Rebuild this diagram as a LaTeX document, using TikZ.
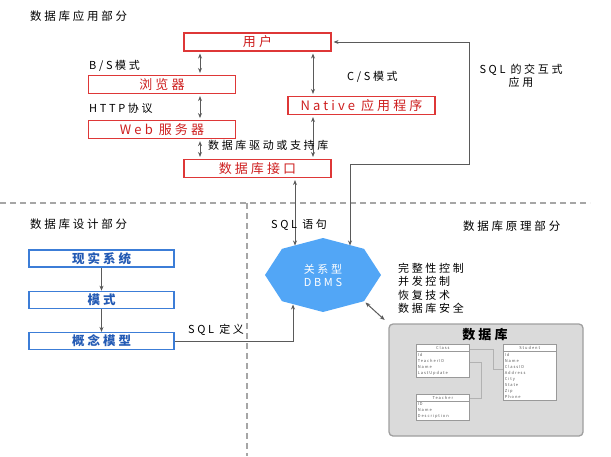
\documentclass[tikz,border=0pt]{standalone}
\usepackage{fontspec}
\setmainfont{Noto Sans CJK SC}[LetterSpace=24]
\usetikzlibrary{arrows.meta,positioning,calc,shapes.multipart}
\definecolor{appred}{RGB}{222,55,55}
\definecolor{apptext}{RGB}{205,30,30}
\definecolor{dsgblue}{RGB}{60,125,215}
\definecolor{dsgtext}{RGB}{35,90,180}
\definecolor{dbmsblue}{RGB}{82,166,246}
\definecolor{linegray}{RGB}{90,90,90}
\definecolor{dbgray}{RGB}{218,218,218}
\tikzset{
  appbox/.style={rectangle,draw=appred,line width=1.1pt,text=apptext,
                 minimum width=147pt,minimum height=18pt,inner sep=0pt,
                 font=\fontsize{13}{14}\selectfont},
  dsgbox/.style={rectangle,draw=dsgblue,line width=1.3pt,text=dsgtext,
                 minimum width=145pt,minimum height=17pt,inner sep=0pt,
                 font=\bfseries\fontsize{12.5}{14}\selectfont},
  lbl/.style={anchor=west,inner sep=0pt,font=\fontsize{11}{12.5}\selectfont},
  part/.style={lbl,font=\fontsize{11.5}{13}\selectfont},
  arrow/.style={-{Stealth[length=5pt,width=4pt]},line width=1pt,linegray},
  dblarrow/.style={{Stealth[length=5pt,width=4pt]}-{Stealth[length=5pt,width=4pt]},
                   line width=1pt,linegray,shorten <=2pt,shorten >=2pt},
  sepline/.style={draw=gray!70,line width=1.2pt,dash pattern=on 6pt off 4pt},
  dbmstxt/.style={text=white,align=center,inner sep=0pt,
                  font=\fontsize{11}{13}\selectfont},
  dbbox/.style={rectangle,rounded corners=4pt,draw=gray!75,line width=1.3pt,
                fill=dbgray,minimum width=194pt,minimum height=112pt},
  tbl/.style={rectangle split,rectangle split parts=2,draw=gray!80,
              line width=0.6pt,fill=white,align=left,text=gray!70!black,
              minimum width=53pt,inner sep=1.5pt,
              rectangle split part align={center,left},
              font=\fontsize{4}{6}\selectfont},
  rel/.style={draw=gray!60,line width=0.6pt},
}
\begin{document}
\begin{tikzpicture}[x=1pt,y=-1pt]
  \useasboundingbox (0,0) rectangle (611,456);

  \draw[sepline] (0,203) -- (590,203);
  \draw[sepline] (247,203) -- (247,456);

  % application part
  \node[part] (apptitle) at (30,16) {数据库应用部分};
  \node[appbox] (user) at (257.5,42) {用户};
  \node[appbox] (brw) at (162,84.5) {浏览器};
  \node[appbox,below=26pt of brw] (web) {Web 服务器};
  \node[appbox] (ifc) at (257.5,168.5) {数据库接口};
  \node[appbox] (nat) at (361.5,105.5) {Native 应用程序};

  \foreach \a/\b in {user/brw,brw/web,web/ifc}
    \draw[dblarrow] (\a.south -| 200,0) -- (\b.north -| 200,0);
  \foreach \a/\b in {user/nat,nat/ifc}
    \draw[dblarrow] (\a.south -| 313,0) -- (\b.north -| 313,0);

  \node[lbl] (bs) at (89,66) {B/S模式};
  \node[lbl] (http) at (89,108) {HTTP协议};
  \node[lbl] (drv) at (208,145) {数据库驱动或支持库};
  \node[lbl] (cs) at (347,77) {C/S模式};
  \node[lbl,anchor=center,align=center] (inter) at (521,76) {SQL 的交互式\\应用};

  % DBMS
  \foreach \i in {0,...,7}
    \coordinate (v\i) at ($(323,275)+(\i*45:58 and 37)$);
  \fill[dbmsblue] (v0) \foreach \i in {1,...,7} {-- (v\i)} -- cycle;
  \node[dbmstxt] (dbms) at (323,275) {关系型\\DBMS};
  \coordinate (inifc) at (295,245.5);
  \coordinate (insql) at (350,245.5);
  \coordinate (indsg) at (293,304.5);

  \draw[dblarrow,shorten >=0pt] (ifc.south -| inifc) -- (inifc);
  \draw[dblarrow,shorten >=0pt] (user.east) -| (469,164) -| (insql);
  \node[lbl] (sqlstmt) at (271,225) {SQL 语句};

  % design part
  \node[part] (dsgtitle) at (30,224) {数据库设计部分};
  \node[dsgbox] (real) at (101.5,258.5) {现实系统};
  \node[dsgbox,below=23pt of real] (sch) {模式};
  \node[dsgbox,below=23pt of sch] (cm) {概念模型};
  \draw[arrow] (real) -- (sch);
  \draw[arrow] (sch) -- (cm);
  \draw[arrow] (cm.east) -| (indsg);
  \node[lbl] (sqldef) at (188,330) {SQL 定义};

  % theory part
  \node[part] (thtitle) at (463,226) {数据库原理部分};
  \node[lbl,anchor=north west,align=left,font=\fontsize{11}{13.4}\selectfont]
      (funcs) at (398,263) {完整性控制\\并发控制\\恢复技术\\数据库安全};

  \node[dbbox] (db) at (486,380) {};
  \node[font=\bfseries\fontsize{13}{14}\selectfont] (dbtitle) at (485,335) {数据库};
  \draw[dblarrow,shorten >=5pt] (v1) -- (db.north west);

  \node[tbl,anchor=north west] (cls) at (416,344)
      {Class\nodepart{two}Id\\TeacherID\\Name\\LastUpdate};
  \node[tbl,anchor=north west] (tch) at (416,394)
      {Teacher\nodepart{two}ID\\Name\\Description};
  \node[tbl,anchor=north west] (stu) at (503,344)
      {Student\nodepart{two}Id\\Name\\ClassID\\Address\\City\\State\\Zip\\Phone};
  \draw[rel] ([yshift=-5pt]cls.north east) -- ++(24,0) |- (stu.west |- 0,369);
  \draw[rel] (cls.east |- 0,362) -- ++(12,0) |- (tch.east |- 0,398);

\end{tikzpicture}
\end{document}
